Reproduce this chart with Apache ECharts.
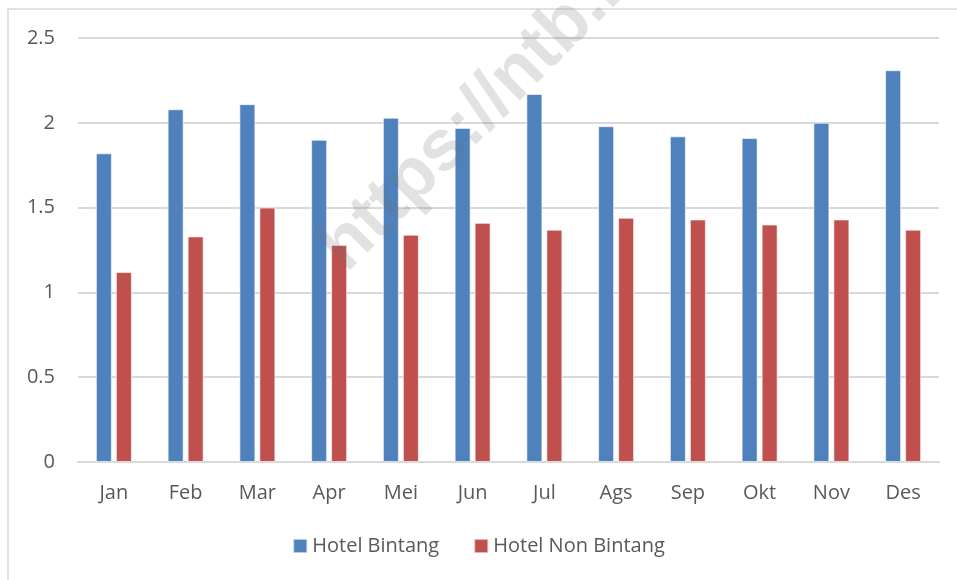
<!DOCTYPE html>
<html>
<head>
<meta charset="utf-8">
<script src="https://cdn.jsdelivr.net/npm/echarts@6/dist/echarts.min.js"></script>
<style>
  html, body { margin: 0; padding: 0; background: #fff; }
  #chart { width: 957px; height: 580px; }
</style>
</head>
<body>
<div id="chart"></div>
<script>
var months = ['Jan', 'Feb', 'Mar', 'Apr', 'Mei', 'Jun', 'Jul', 'Ags', 'Sep', 'Okt', 'Nov', 'Des'];
var hotelBintang = [1.82, 2.08, 2.11, 1.90, 2.03, 1.97, 2.17, 1.98, 1.92, 1.91, 2.00, 2.31];
var hotelNonBintang = [1.12, 1.33, 1.50, 1.28, 1.34, 1.41, 1.37, 1.44, 1.43, 1.40, 1.43, 1.37];
var seriesNames = ['Hotel Bintang', 'Hotel Non Bintang'];

(function () {
  var myChart = echarts.init(document.getElementById('chart'));
  var font = '"Open Sans", "Noto Sans", sans-serif';
  var option = {
    animation: false,
    color: ['#4F81BD', '#C0504D'],
    textStyle: { fontFamily: font },
    grid: {
      left: 78,
      right: 18,
      top: 38,
      bottom: 118,
      containLabel: false
    },
    legend: {
      bottom: 19,
      left: 'center',
      itemWidth: 14,
      itemHeight: 14,
      itemGap: 34,
      icon: 'rect',
      textStyle: { color: '#595959', fontSize: 20, fontFamily: font },
      data: seriesNames
    },
    xAxis: {
      type: 'category',
      data: months,
      axisTick: { show: false },
      axisLine: { lineStyle: { color: '#d9d9d9', width: 2 } },
      axisLabel: { color: '#595959', fontSize: 20, margin: 21 }
    },
    yAxis: {
      type: 'value',
      min: 0,
      max: 2.5,
      interval: 0.5,
      axisLine: { show: false },
      axisTick: { show: false },
      axisLabel: { color: '#595959', fontSize: 20, margin: 23 },
      splitLine: { lineStyle: { color: '#d9d9d9', width: 2 } }
    },
    graphic: [
      {
        // bingkai chart
        type: 'rect',
        z: -10,
        shape: { x: 8, y: 9, width: 1000, height: 620 },
        style: { fill: 'none', stroke: '#d9d9d9', lineWidth: 1.5 }
      },
      {
        // watermark
        type: 'text',
        x: 358,
        y: 285,
        rotation: Math.PI / 4,
        z: 100,
        style: {
          text: 'https://ntb.bps.go.id',
          fontSize: 72,
          fontWeight: 'bold',
          fontFamily: '"Liberation Sans", Arial, sans-serif',
          fill: 'rgba(110,110,110,0.2)',
          align: 'left',
          verticalAlign: 'bottom'
        }
      }
    ],
    series: [
      {
        name: seriesNames[0],
        type: 'bar',
        barWidth: 16,
        barGap: '25%',
        data: hotelBintang,
        itemStyle: { borderColor: 'rgba(255,255,255,0.6)', borderWidth: 1 }
      },
      {
        name: seriesNames[1],
        type: 'bar',
        barWidth: 16,
        barGap: '25%',
        data: hotelNonBintang,
        itemStyle: { borderColor: 'rgba(255,255,255,0.6)', borderWidth: 1 }
      }
    ]
  };
  myChart.setOption(option);
})();
</script>
</body>
</html>
